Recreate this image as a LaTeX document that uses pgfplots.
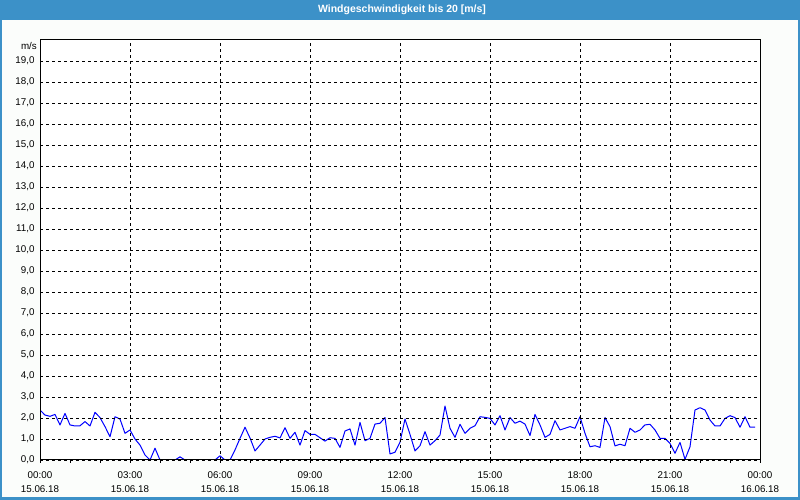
\documentclass[border=0pt]{standalone}
\usepackage{fontspec}
\setmainfont{Liberation Sans}
\usepackage{pgfplots}
\usepackage{pgfplotstable}
\pgfplotsset{compat=1.18}
\definecolor{frameblue}{RGB}{60,145,200}
\definecolor{bgc}{RGB}{251,253,251}
\pgfplotstableread{
t v
0 2.38
10 2.14
20 2.08
30 2.17
40 1.67
50 2.22
60 1.67
70 1.62
80 1.63
90 1.83
100 1.62
110 2.27
120 2.02
130 1.59
140 1.11
150 2.06
160 1.95
170 1.27
180 1.43
190 1.00
200 0.71
210 0.24
220 0.00
230 0.56
240 0.00
250 0.00
260 0.00
270 0.00
280 0.15
290 0.00
300 0.00
310 0.00
320 0.00
330 0.00
340 0.00
350 0.00
360 0.20
370 0.00
380 0.00
390 0.48
400 1.03
410 1.56
420 1.05
430 0.43
440 0.71
450 1.00
460 1.08
470 1.13
480 1.05
490 1.54
500 1.03
510 1.32
520 0.71
530 1.40
540 1.22
550 1.22
560 1.06
570 0.90
580 1.06
590 1.03
600 0.60
610 1.38
620 1.48
630 0.71
640 1.79
650 0.92
660 1.03
670 1.71
680 1.75
690 2.02
700 0.29
710 0.37
720 0.85
730 1.95
740 1.22
750 0.43
760 0.68
770 1.35
780 0.71
790 0.92
800 1.19
810 2.57
820 1.51
830 1.08
840 1.70
850 1.27
860 1.51
870 1.63
880 2.06
890 2.03
900 1.98
910 1.67
920 2.11
930 1.43
940 2.02
950 1.75
960 1.85
970 1.71
980 1.16
990 2.17
1000 1.67
1010 1.08
1020 1.22
1030 1.87
1040 1.43
1050 1.51
1060 1.59
1070 1.51
1080 2.06
1090 1.27
1100 0.63
1110 0.68
1120 0.60
1130 2.02
1140 1.59
1150 0.67
1160 0.75
1170 0.68
1180 1.51
1190 1.32
1200 1.43
1210 1.67
1220 1.70
1230 1.43
1240 1.03
1250 1.03
1260 0.79
1270 0.32
1280 0.84
1290 0.03
1300 0.63
1310 2.38
1320 2.49
1330 2.38
1340 1.90
1350 1.62
1360 1.62
1370 1.98
1380 2.11
1390 2.02
1400 1.56
1410 2.06
1420 1.56
1430 1.56
}\winddata
\begin{document}
\begin{tikzpicture}[x=1pt,y=1pt]
\fill[frameblue] (0,0) rectangle (800,500);
\fill[bgc] (2,3) rectangle (798,480);
\node[text=white, font=\fontsize{10.5}{12}\selectfont\bfseries] at (402,490.5) {Windgeschwindigkeit bis 20 [m/s]};
\begin{axis}[
  name=main,
  at={(40pt,40pt)}, anchor=south west,
  scale only axis, width=720pt, height=420pt,
  xmin=0, xmax=1440, ymin=0, ymax=20,
  axis background/.style={fill=white},
  axis on top,
  axis line style={black, line width=1pt},
  xtick={0,180,...,1440},
  minor xtick={0,60,...,1440},
  xticklabels={{00:00\\15.06.18},{03:00\\15.06.18},{06:00\\15.06.18},{09:00\\15.06.18},{12:00\\15.06.18},{15:00\\15.06.18},{18:00\\15.06.18},{21:00\\15.06.18},{00:00\\16.06.18}},
  xticklabel style={align=center, font=\fontsize{9.8}{14}\selectfont, yshift=-5pt},
  ytick={0,1,...,19},
  yticklabels={{0,0},{1,0},{2,0},{3,0},{4,0},{5,0},{6,0},{7,0},{8,0},{9,0},{10,0},{11,0},{12,0},{13,0},{14,0},{15,0},{16,0},{17,0},{18,0},{19,0}},
  yticklabel style={font=\fontsize{9.8}{11}\selectfont, xshift=1pt},
  xtick pos=bottom, ytick pos=left,
  tick align=outside,
  major tick length=3pt, minor tick length=3pt,
  tick style={black, line width=0.8pt},
  ytick style={draw=none},
  xmajorgrids, ymajorgrids,
  major grid style={black, line width=0.8pt, dash pattern=on 3pt off 3pt},
  /pgf/number format/assume math mode=true,
]
\addplot[color=blue, line width=1pt, line join=round] table[x=t, y=v] {\winddata};
\end{axis}
\node[anchor=north east, font=\fontsize{9.8}{11}\selectfont, inner sep=0pt] at ([xshift=-3pt, yshift=-2pt]main.north west) {m/s};
\end{tikzpicture}
\end{document}
